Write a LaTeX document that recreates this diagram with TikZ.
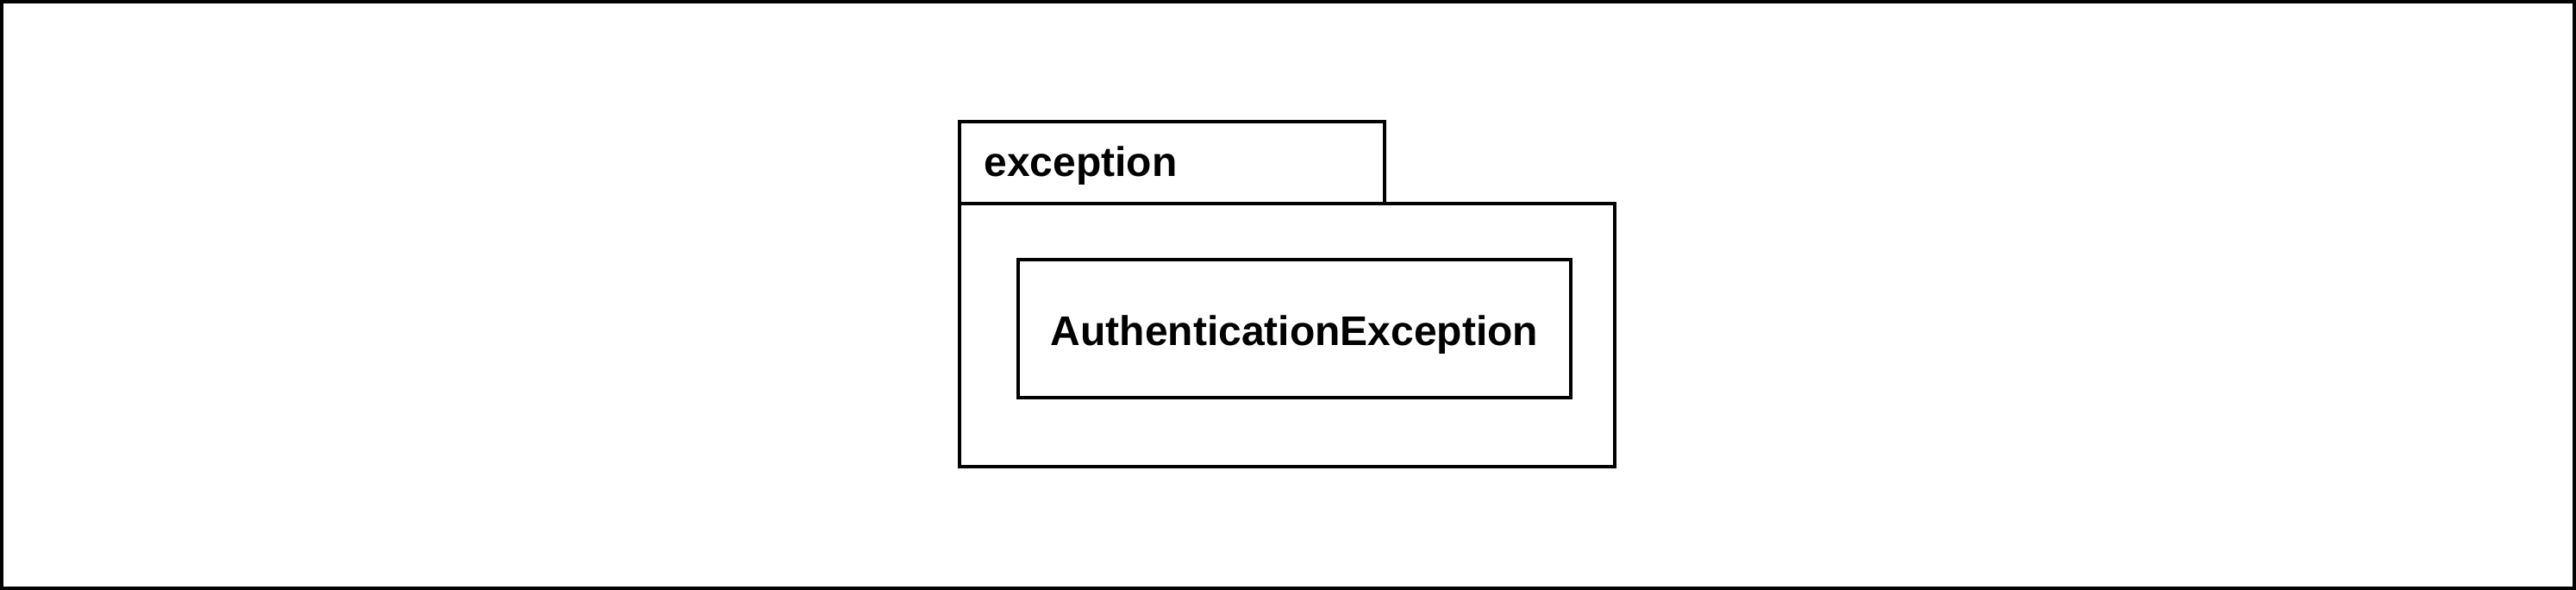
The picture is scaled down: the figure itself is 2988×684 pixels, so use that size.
\documentclass[tikz,border=0pt]{standalone}
\usepackage{fontspec}
\setmainfont{Liberation Sans}
\begin{document}
\begin{tikzpicture}[x=0.5pt,y=-0.5pt,
  box/.style={draw=black,line width=1.8pt,rectangle,inner sep=0pt,outer sep=0pt},
  lbl/.style={font=\bfseries\fontsize{24pt}{28pt}\selectfont,inner sep=0pt}]
\useasboundingbox (0,0) rectangle (2988,684);
\draw[line width=2pt] (2,2) rectangle (2986,682);
\node[box,minimum width=246.5pt,minimum height=47.5pt] (tab) at (1359.5,188.5) {};
\node[box,minimum width=380pt,minimum height=152.5pt] (body) at (1493,388.5) {};
\node[box,minimum width=320.5pt,minimum height=80pt] (cls) at (1501.5,381) {};
\node[lbl] (clsname) at (1501.5,388) {AuthenticationException};
\node[lbl,anchor=west] (pkg) at (1141,192) {exception};
\end{tikzpicture}
\end{document}
